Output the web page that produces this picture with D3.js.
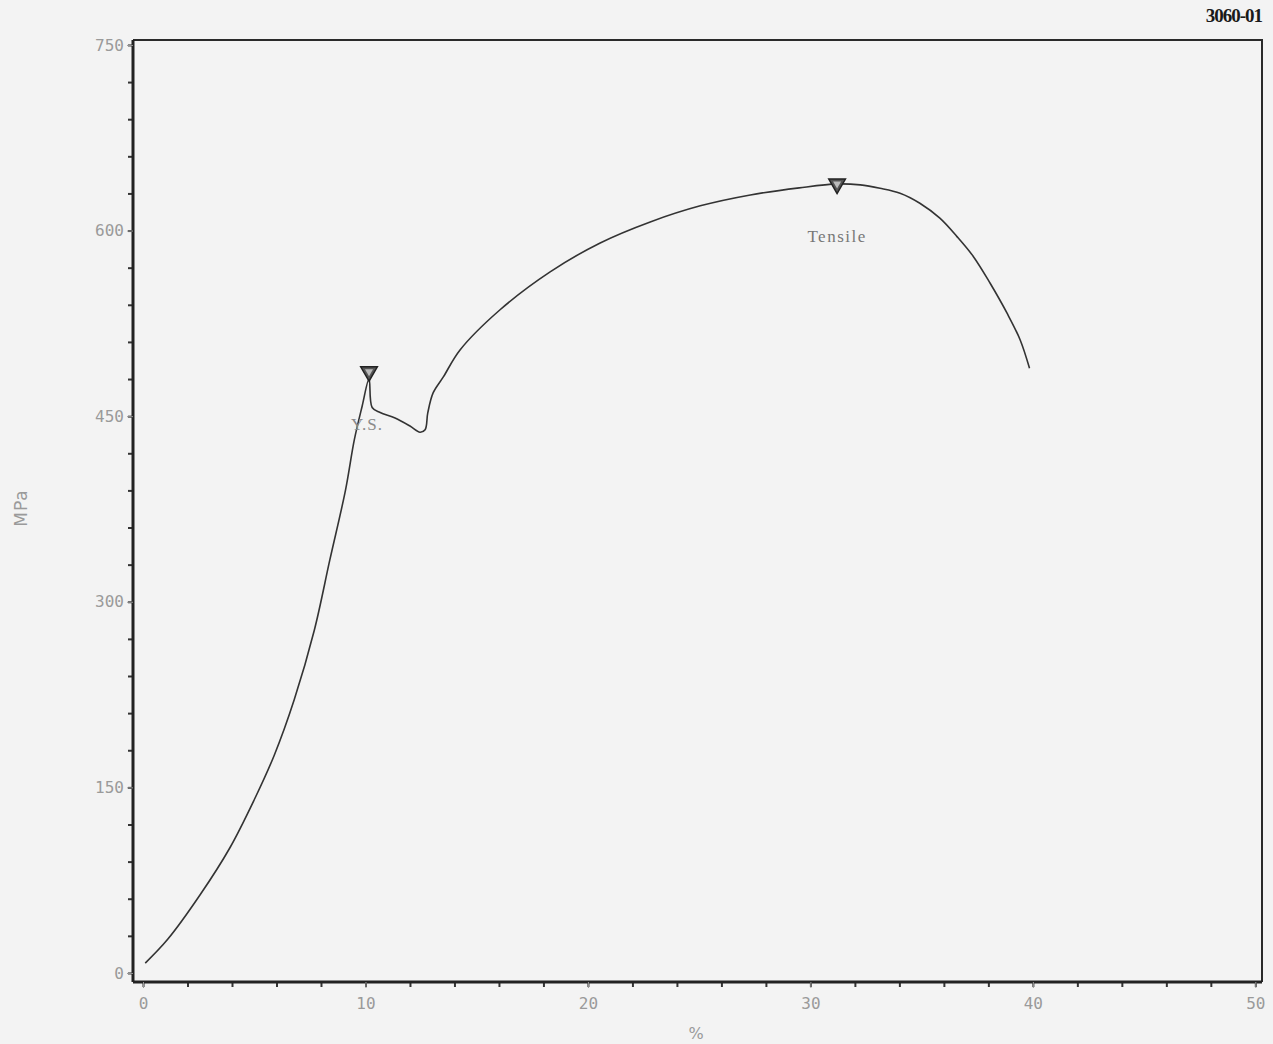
<!DOCTYPE html>
<html>
<head>
<meta charset="utf-8">
<script src="https://cdn.jsdelivr.net/npm/d3@7"></script>
<style>
  body { margin: 0; background: #f3f3f3; }
  svg { display: block; }
</style>
</head>
<body>
<div id="chart"></div>
<script>
// strain (%) / stress (MPa)
const strain = [0.1, 1.1, 2.56, 3.9, 5.0, 5.9, 6.8, 7.7, 8.4, 9.1, 9.5, 9.85, 10.16,
  10.3, 10.66, 11.33, 12.0, 12.45, 12.68, 12.8, 13.04, 13.5, 14.25, 16.05, 18.3, 20.55,
  22.8, 25.05, 27.3, 29.5, 31.2, 32.24, 33.13, 34.03, 34.92, 35.82, 36.59, 37.33, 38.08,
  38.84, 39.43, 39.85];
const stress = [8, 27, 63, 101, 140, 176, 221, 277, 334, 390, 431, 458, 480,
  457, 453, 448.5, 442, 437, 439, 452.6, 468.8, 481.7, 503.5, 536, 566.6, 590,
  607, 620, 628.8, 634.5, 637.7, 636.9, 634.2, 630.2, 622.1, 610, 595.1, 578.9, 557.4,
  533.2, 511.6, 488.7];

const markerNames = ['Y.S.', 'Tensile'];
const markerStrain = [10.16, 31.2];
const markerStress = [486, 637.7];

const xTicks = [0, 10, 20, 30, 40, 50];
const yTicks = [0, 150, 300, 450, 600, 750];

const width = 1273, height = 1044;
const plotL = 133, plotR = 1262, plotT = 40, plotB = 982;

const svg = d3.select('#chart').append('svg')
    .attr('width', width)
    .attr('height', height);

svg.append('rect').attr('width', width).attr('height', height).attr('fill', '#f3f3f3');

const x = d3.scaleLinear().domain([-0.45, 50.3]).range([plotL, plotR]);
const y = d3.scaleLinear().domain([-7.3, 754]).range([plotB, plotT]);

const labelColor = '#9a9a9a';

// frame (top + right)
svg.append('path')
    .attr('d', `M${plotL},${plotT}H${plotR}V${plotB}`)
    .attr('fill', 'none')
    .attr('stroke', '#2a2a2a')
    .attr('stroke-width', 2);

// minor ticks
const xAxisMinor = d3.axisBottom(x).tickValues(d3.range(0, 51, 2)).tickSize(5).tickFormat('');
svg.append('g').attr('transform', `translate(0,${plotB})`).call(xAxisMinor)
    .call(g => g.select('.domain').remove())
    .selectAll('line').attr('stroke', '#333').attr('stroke-width', 2);

const yAxisMinor = d3.axisLeft(y).tickValues(d3.range(0, 751, 30)).tickSize(5).tickFormat('');
svg.append('g').attr('transform', `translate(${plotL},0)`).call(yAxisMinor)
    .call(g => g.select('.domain').remove())
    .selectAll('line').attr('stroke', '#333').attr('stroke-width', 2);

// major axes
const xAxis = d3.axisBottom(x).tickValues(xTicks).tickSize(6).tickPadding(10);
const gx = svg.append('g').attr('transform', `translate(0,${plotB})`).call(xAxis);
gx.select('.domain').attr('d', `M${plotL},0H${plotR}`).attr('stroke', '#222').attr('stroke-width', 3);
gx.selectAll('line').attr('stroke', '#999').attr('stroke-width', 1);
gx.selectAll('text').attr('fill', labelColor)
    .style('font-family', 'DejaVu Sans Mono, monospace').style('font-size', '16px');

const yAxis = d3.axisLeft(y).tickValues(yTicks).tickSize(6).tickPadding(3);
const gy = svg.append('g').attr('transform', `translate(${plotL},0)`).call(yAxis);
gy.select('.domain').attr('d', `M0,${plotT}V${plotB}`).attr('stroke', '#222').attr('stroke-width', 3);
gy.selectAll('line').attr('stroke', '#999').attr('stroke-width', 1);
gy.selectAll('text').attr('fill', labelColor)
    .style('font-family', 'DejaVu Sans Mono, monospace').style('font-size', '16px');

// axis titles
svg.append('text')
    .attr('transform', `translate(27,508) rotate(-90)`)
    .attr('text-anchor', 'middle')
    .attr('fill', labelColor)
    .style('font-family', 'DejaVu Sans, sans-serif')
    .style('font-size', '17px')
    .style('letter-spacing', '1px')
    .text('MPa');

svg.append('text')
    .attr('x', 696).attr('y', 1039)
    .attr('text-anchor', 'middle')
    .attr('fill', labelColor)
    .style('font-family', 'DejaVu Sans, sans-serif')
    .style('font-size', '16px')
    .text('%');

svg.append('text')
    .attr('x', 1262).attr('y', 22)
    .attr('text-anchor', 'end')
    .attr('fill', '#1a1a1a')
    .style('font-family', 'Liberation Serif, serif')
    .style('font-weight', 'bold')
    .style('font-size', '19px')
    .style('letter-spacing', '-1px')
    .text('3060-01');

// curve
const line = d3.line()
    .x((d, i) => x(strain[i]))
    .y(d => y(d))
    .curve(d3.curveCatmullRom.alpha(0.5));

svg.append('path')
    .datum(stress)
    .attr('d', line)
    .attr('fill', 'none')
    .attr('stroke', '#333')
    .attr('stroke-width', 1.6);

// markers
const tri = d3.symbol().type(d3.symbolTriangle).size(120);
const mk = svg.append('g').selectAll('g')
    .data(markerNames)
    .join('g')
    .attr('transform', (d, i) => `translate(${x(markerStrain[i])},${y(markerStress[i])}) rotate(180)`);
mk.append('path').attr('d', tri).attr('fill', '#555').attr('stroke', '#222').attr('stroke-width', 1.5);
mk.append('path').attr('d', d3.symbol().type(d3.symbolTriangle).size(28)).attr('fill', '#bbb');

svg.append('text')
    .attr('x', x(markerStrain[0]) - 2).attr('y', y(markerStress[0]) + 58)
    .attr('text-anchor', 'middle')
    .attr('fill', '#8a8a8a')
    .style('font-family', 'Liberation Serif, serif')
    .style('font-size', '17px')
    .style('letter-spacing', '1px')
    .text(markerNames[0]);

svg.append('text')
    .attr('x', x(markerStrain[1])).attr('y', y(markerStress[1]) + 58)
    .attr('text-anchor', 'middle')
    .attr('fill', '#777')
    .style('font-family', 'Liberation Serif, serif')
    .style('font-size', '17px')
    .style('letter-spacing', '1.5px')
    .text(markerNames[1]);
</script>
</body>
</html>
